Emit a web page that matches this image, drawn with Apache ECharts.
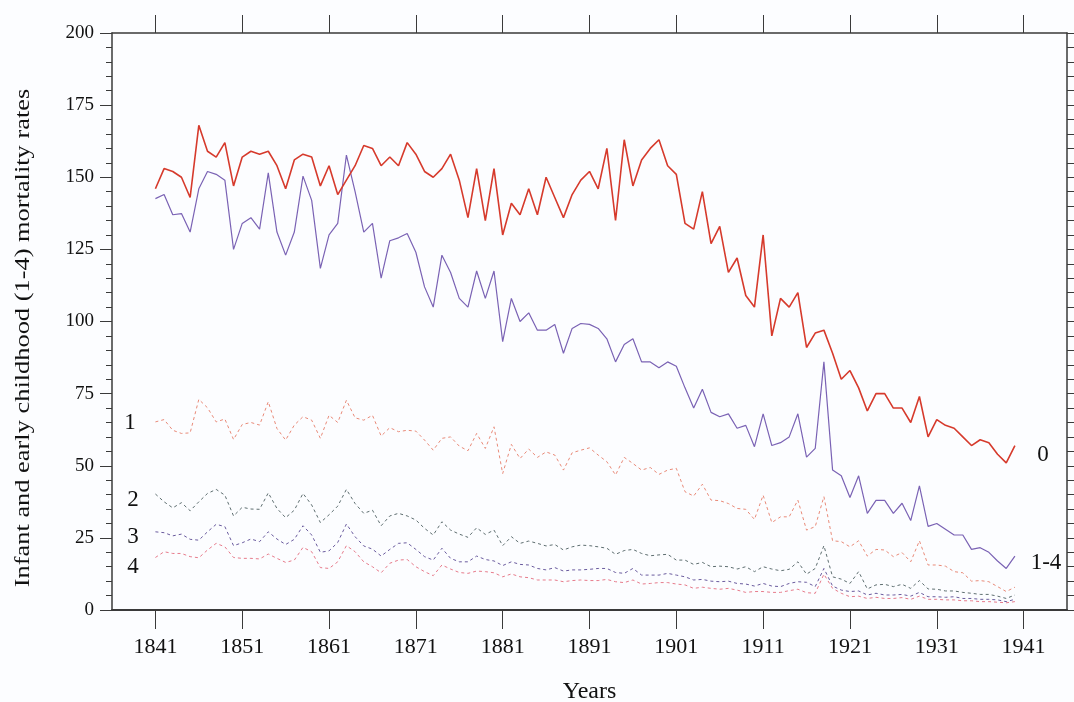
<!DOCTYPE html>
<html>
<head>
<meta charset="utf-8">
<script src="https://cdn.jsdelivr.net/npm/echarts@6/dist/echarts.min.js"></script>
<style>
    html, body { margin: 0; padding: 0; background: #fcfdff; }
    #chart { width: 1074px; height: 702px; }
</style>
</head>
<body>
<div id="chart"></div>
<script>
// years 1841-1940, one point per year
var firstYear = 1841;
var tickYears = [1841, 1851, 1861, 1871, 1881, 1891, 1901, 1911, 1921, 1931, 1941];

// infant mortality (age 0)
var infant = [146,153,152,150,143,168,159,157,162,147,
    157,159,158,159,154,146,156,158,157,147,
    154,144,149,154,161,160,154,157,154,162,
    158,152,150,153,158,149,136,153,135,153,
    130,141,137,146,137,150,143,136,144,149,
    152,146,160,135,163,147,156,160,163,154,
    151,134,132,145,127,133,117,122,109,105,
    130,95,108,105,110,91,96,97,89,80,
    83,77,69,75,75,70,70,65,74,60,
    66,64,63,60,57,59,58,54,51,57];

// early childhood, ages 1-4 combined
var child = [142.6,144,137,137.4,131,146,152,151,149,125,
    134,136,132,151.5,131,123,131,150.4,142,118.4,
    130,134,157.7,145,131,134,115,128,129,130.5,
    124,112,105,123,117,108,105,117.5,108,117.5,
    93,108,100,103,97,97,99,89,97.6,99.3,
    99,97.6,94,86,92,94,86,86,84,86,
    84.5,77,70,76.5,68.5,67,68,63,64,56.6,
    68,57,58,60,68,53,56,86,48.5,46.5,
    39,46.5,33.5,38,38,33.5,37,31,43,29,
    30,28,26,26,21,21.6,20,17,14.4,18.7];

var age1 = [65.2,66,62.3,61.2,61.4,73,70.1,65.2,66.2,59.1,
    64.3,65,64.1,72.2,62.9,58.9,64.1,67,65.8,59.5,
    67.5,65,72.7,66.6,65.8,67.5,60.3,63.2,61.8,62.3,
    62,58.9,55.4,59.5,60,56.8,55.2,61.2,56,63.5,
    47.3,57.4,52.5,55.8,52.9,54.8,53.7,48.5,54.5,55.4,
    56.2,53.7,51.4,46.8,52.9,50.8,48.5,49.4,47,48.5,
    49.1,41,39.5,43.6,38.1,37.9,36.9,35.2,34.9,31.4,
    39.8,30.3,32.3,32.3,38.1,27.7,28.9,39.3,24,23.7,
    21.9,24,18.7,21,20.8,18.5,19.9,16.7,24,15.6,
    15.6,15.2,13.3,12.9,10,10.2,9.8,8.1,6.4,7.9];

var age2 = [40.2,37.5,35.4,37.2,34.4,37.5,40.4,41.8,39.8,32.6,
    35.6,35,34.9,40.6,35.2,32,34.6,40.4,36.4,30.3,
    33,36,41.8,36.9,33.5,34.6,29.2,32.6,33.5,32.6,
    31.2,28.3,26,30.6,27.7,26.3,25.2,28.5,26.2,27.7,
    22.3,25.4,23.1,23.9,23.1,22.2,22.7,20.8,21.9,22.5,
    22.3,21.9,21.4,19.3,20.6,21,19.6,18.8,19.1,19.3,
    17.3,17.3,15.8,16.5,15,15.2,15,14.2,15,13.3,
    15,14.2,13.6,14.1,16.7,12.4,14.4,22.3,11.5,10.7,
    9.2,13.3,7.3,8.7,8.9,8.1,8.9,7.5,10.2,7.3,
    7.2,6.6,6.6,6.1,5.8,5.4,5.4,4.8,4,5.2];

var age3 = [27.1,26.8,25.7,26.3,24.5,24.2,27.1,29.7,28.9,22.3,
    23.3,24.6,23.7,27.1,24.6,22.7,24.5,29.2,26,20,
    20.5,23.4,29.8,25.4,22.2,21.1,18.7,21,23.1,23.3,
    21,18.5,17.3,21.4,17.9,16.7,16.7,18.7,17.5,17,
    15.4,16.7,15.8,15.6,14.4,13.9,14.7,13.5,13.9,13.9,
    14.1,14.4,14.4,13,12.7,14.4,12.1,12.1,12.1,12.7,
    12.1,11.5,10.4,10.6,10,9.8,10,9.2,9,8.3,
    9.2,8.3,8.1,9.2,9.8,9.6,8.1,14.4,8.3,6.9,
    6.4,6.6,5.2,5.8,5.2,5.2,5.4,4.8,6.1,4.6,
    4.6,4.4,4.6,4,4,3.7,3.7,3.5,2.9,3.7];

var age4 = [18.2,20.2,19.6,19.6,18.5,18.1,20.8,23.1,21.9,18.2,
    17.9,17.9,17.7,19.4,17.9,16.5,17.3,21.7,20.2,14.7,
    14.4,16.7,22.3,20.2,16.7,15,12.9,16.2,17.3,17.5,
    15,13.3,11.9,15.6,14.2,13,12.7,13.5,13.3,12.9,
    11.5,12.5,11.5,11.2,10.4,10.4,10.4,9.8,10.2,10.4,
    10.2,10.2,10.6,9.8,9.5,10.4,9,9.2,9.5,9.5,
    9,8.7,7.5,7.9,7.5,7.2,7.5,6.9,6.1,6.4,
    6.4,6.1,6.1,6.7,7.2,6,5.8,12.4,7.5,5.8,
    4.6,4.8,4,4.4,4,4,4.3,3.7,4.8,3.7,
    3.7,3.5,3.5,3.2,3.2,2.9,2.9,2.7,2.5,2.9];

var FONT = '"Liberation Serif", "DejaVu Serif", serif';
var AXIS = '#3a3a3a';

function pairs(values) {
    return values.map(function (v, i) { return [firstYear + i, v]; });
}

function lineSeries(values, color, width, dashed, z, xIdx) {
    return {
        type: 'line',
        xAxisIndex: xIdx || 0,
        data: pairs(values),
        showSymbol: false,
        silent: true,
        z: z,
        lineStyle: { color: color, width: width, type: dashed ? [3, 3] : 'solid' }
    };
}

function seriesText(x, y, s) {
    return {
        type: 'text', x: x, y: y,
        style: { text: s, font: '23px ' + FONT, fill: '#111', align: 'center', verticalAlign: 'middle' }
    };
}

var chart = echarts.init(document.getElementById('chart'));

var option = {
    backgroundColor: '#fcfdff',
    animation: false,
    grid: { left: 112, right: 7, top: 33, bottom: 92, outerBoundsMode: 'none', containLabel: false },
    xAxis: [{
        type: 'value', position: 'bottom', min: 1836, max: 1946,
        name: 'Years', nameLocation: 'middle', nameGap: 70,
        nameTextStyle: { fontFamily: FONT, fontSize: 24, color: '#111' },
        axisLine: { onZero: false, lineStyle: { color: AXIS, width: 2 } },
        axisTick: { customValues: tickYears, length: 19, lineStyle: { color: AXIS } },
        axisLabel: {
            customValues: tickYears, margin: 26, fontFamily: FONT, fontSize: 22, color: '#111',
            formatter: function (v) { return String(v); }
        },
        splitLine: { show: false }
    }, {
        type: 'value', position: 'top', min: 1836, max: 1946,
        axisLine: { show: true, onZero: false, lineStyle: { color: AXIS, width: 1.5 } },
        axisTick: { show: true, customValues: tickYears, length: 18, lineStyle: { color: AXIS } },
        axisLabel: { show: false },
        splitLine: { show: false }
    }],
    yAxis: [{
        type: 'value', position: 'left', min: 0, max: 200, interval: 25,
        axisLine: { show: true, onZero: false, lineStyle: { color: AXIS, width: 1.5 } },
        axisTick: { length: 12, lineStyle: { color: AXIS } },
        minorTick: { show: true, splitNumber: 5, length: 6, lineStyle: { color: AXIS } },
        axisLabel: { margin: 18, fontFamily: FONT, fontSize: 19, color: '#111' },
        splitLine: { show: false }
    }, {
        type: 'value', position: 'right', min: 0, max: 200, interval: 5,
        axisLine: { show: true, onZero: false, lineStyle: { color: AXIS, width: 1.5 } },
        axisTick: { length: 7, lineStyle: { color: AXIS } },
        axisLabel: { show: false },
        splitLine: { show: false }
    }],
    series: [
        lineSeries(age4, '#e77b8b', 1, true, 2, 1),
        lineSeries(age3, '#6a5b9e', 1, true, 3),
        lineSeries(age2, '#5e6e70', 1, true, 4),
        lineSeries(age1, '#e98a78', 1, true, 5),
        lineSeries(child, '#7a62b4', 1.2, false, 6),
        lineSeries(infant, '#d63a2c', 1.6, false, 7)
    ],
    graphic: [
        {
            // y axis title, slightly stretched along its length like the scan
            type: 'text', x: 23, y: 338, rotation: Math.PI / 2, scaleX: 1.2,
            style: {
                text: 'Infant and early childhood (1-4) mortality rates',
                font: '22px ' + FONT, fill: '#111', align: 'center', verticalAlign: 'middle'
            }
        },
        seriesText(1043, 455, '0'),
        seriesText(1046, 563, '1-4'),
        seriesText(130, 423, '1'),
        seriesText(133, 500, '2'),
        seriesText(133, 537, '3'),
        seriesText(133, 567, '4')
    ]
};

chart.setOption(option);
</script>
</body>
</html>
